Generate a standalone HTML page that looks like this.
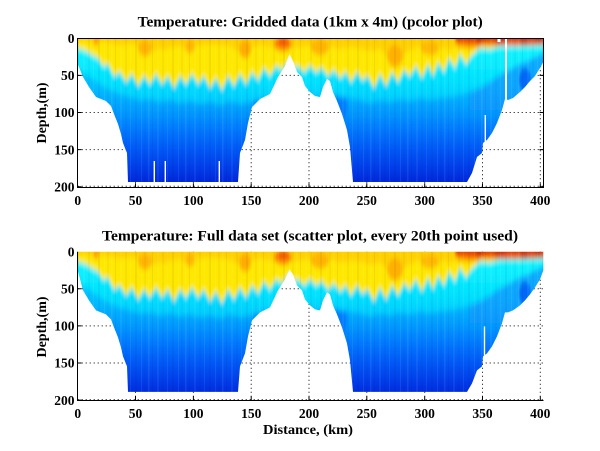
<!DOCTYPE html>
<html><head><meta charset="utf-8">
<style>
html,body{margin:0;padding:0;background:#fff}
svg{display:block}
text{font-family:"Liberation Serif","Times New Roman",serif;font-weight:bold;fill:#000}
</style></head>
<body>
<svg width="600" height="451" viewBox="0 0 600 451" xmlns="http://www.w3.org/2000/svg">
<defs>
<linearGradient id="gb" gradientUnits="userSpaceOnUse" x1="0" y1="38" x2="0" y2="183">
<stop offset="0" stop-color="#10d0ff"/>
<stop offset="0.35" stop-color="#00bcff"/>
<stop offset="0.5" stop-color="#009cff"/>
<stop offset="0.62" stop-color="#007cff"/>
<stop offset="0.76" stop-color="#005af6"/>
<stop offset="0.9" stop-color="#003ce8"/>
<stop offset="1" stop-color="#0026d8"/>
</linearGradient>
<linearGradient id="gc" gradientUnits="userSpaceOnUse" x1="0" y1="50" x2="0" y2="105">
<stop offset="0" stop-color="#10f4ff"/>
<stop offset="0.6" stop-color="#00e0ff"/>
<stop offset="1" stop-color="#00c8ff"/>
</linearGradient>
<filter id="bl" x="-5%" y="-5%" width="110%" height="110%"><feGaussianBlur stdDeviation="1.4 3"/></filter>
<pattern id="st" patternUnits="userSpaceOnUse" width="37" height="10">
<rect x="0" y="0" width="1.5" height="10" fill="#fff" opacity=".08"/>
<rect x="4" y="0" width="1" height="10" fill="#000" opacity=".06"/>
<rect x="9" y="0" width="2" height="10" fill="#fff" opacity=".06"/>
<rect x="14.5" y="0" width="1" height="10" fill="#003" opacity=".07"/>
<rect x="19" y="0" width="1" height="10" fill="#fff" opacity=".07"/>
<rect x="24" y="0" width="2" height="10" fill="#003" opacity=".05"/>
<rect x="30" y="0" width="1" height="10" fill="#fff" opacity=".08"/>
<rect x="33.5" y="0" width="1" height="10" fill="#000" opacity=".06"/>
</pattern>
<g id="field">
<rect x="50" y="10" width="520" height="200" fill="url(#gb)"/>
<ellipse cx="335" cy="105" rx="12" ry="22" fill="#0060ff" opacity=".6"/>
<ellipse cx="262" cy="108" rx="10" ry="14" fill="#0064ff" opacity=".5"/>
<polygon points="470,60 545,55 545,110 470,110" fill="#1090ff" opacity=".5"/>
<ellipse cx="525" cy="80" rx="6" ry="12" fill="#0058f4" opacity=".8"/>
<polygon fill="url(#gc)" points="60,20 560,20 560,50 543,53 530,60 520,64 510,70 500,75 490,82 480,88 470,92 460,95 450,97 440,98 430,100 420,98 410,101 400,99 390,102 380,100 370,103 360,100 350,98 340,97 330,95 320,97 300,94 290,92 280,96 270,99 260,100 250,102 240,104 230,101 220,105 210,102 200,104 190,101 180,103 170,100 160,102 150,99 140,100 130,97 120,94 110,90 100,84 90,77 78,70 60,68"/>
<polygon fill="#ffe800" points="60,20 560,20 560,44 543,44 520,45 500,46 490,49 480,48 472,55 466,64 460,54 455,68 449,58 444,72 438,62 433,76 428,64 422,78 416,66 410,76 404,70 398,82 392,72 386,86 380,74 374,88 368,76 362,80 357,72 351,82 346,72 340,78 334,70 328,76 322,68 316,72 310,66 304,72 298,66 292,68 288,62 282,70 276,66 270,76 264,68 258,80 252,72 246,84 240,74 234,86 228,76 222,90 216,78 210,88 204,76 198,84 192,74 186,84 180,76 174,88 168,76 162,84 156,74 150,84 144,76 138,86 132,74 126,82 120,72 114,76 108,64 103,66 98,58 92,55 86,51 78,48 60,48"/>
<polygon fill="#ffd000" points="60,20 560,20 560,44 543,45 520,46 500,46 490,47 480,46 470,48 460,47 450,49 440,48 430,50 420,47 410,50 405,54 400,51 395,56 390,52 385,54 380,49 370,51 360,48 350,47 340,49 330,46 320,48 310,46 300,47 295,48 290,46 285,49 280,48 270,47 260,45 250,48 245,51 240,49 235,50 230,46 220,45 210,44 200,45 190,46 185,49 180,46 170,47 165,50 160,48 155,51 150,49 145,47 140,45 130,44 120,45 110,43 100,42 95,41 90,42 85,41 78,41 60,41"/>
<ellipse cx="96" cy="41" rx="3" ry="4" fill="#ff9800"/>
<ellipse cx="145" cy="48" rx="7" ry="8" fill="#ffb400"/>
<ellipse cx="190" cy="46" rx="5" ry="7" fill="#ffb800"/>
<ellipse cx="245" cy="49" rx="6" ry="9" fill="#ffac00"/>
<ellipse cx="283" cy="44" rx="9" ry="7" fill="#ff8000"/>
<ellipse cx="320" cy="47" rx="9" ry="8" fill="#ffb400"/>
<ellipse cx="395" cy="56" rx="8" ry="11" fill="#ffb000"/>
<ellipse cx="430" cy="48" rx="9" ry="7" fill="#ffb800"/>
<ellipse cx="470" cy="43" rx="14" ry="5" fill="#ff9000"/>
<ellipse cx="283" cy="41" rx="6" ry="4" fill="#f05000"/>
<polygon points="455,30 545,30 545,44 505,45 480,44 455,42" fill="#e84000"/>
<ellipse cx="480" cy="40" rx="4" ry="3" fill="#c81800"/>
<ellipse cx="500" cy="41" rx="5" ry="3" fill="#c81800"/>
<ellipse cx="525" cy="42" rx="6" ry="3" fill="#c01000"/>
<ellipse cx="538" cy="40" rx="4" ry="3" fill="#b80800"/>
</g>
<clipPath id="c1"><polygon points="77.7,38.3 543.3,38.3 543.3,62 540,68 535,76 530,81 525,87 520,92 513,98 508,100 505,99 502,110 497,123 492,133 487,140 483,143 482,153 477,157 472,173 467,182 353,182 350,147 347,130 342,114 337,101 333,92 330,81 327,79 323,87 320,97 315,96 310,92 305,86 302,77 297,72 293,61 289.5,54 285,66 278,77 270,94 260,99 252,107 248,123 245,140 240,153 238,182 128,182 127,153 123,143 121,134 118,124 114,114 111,106 106,101 96,97 89,87 83,77 77.7,64"/></clipPath>
<clipPath id="c2"><polygon points="77.7,38.3 543.3,38.3 543.3,57 540,66 535,74 530,81 525,87 520,92 513,97 508,99 505,99 502,110 497,123 492,133 487,140 483,143 482,153 477,157 472,170 467,178.5 353,178.5 350,147 347,130 342,114 337,101 333,92 330,81 327,79 323,87 320,97 315,96 310,92 305,86 302,77 297,72 293,61 289.5,56 285,66 278,77 270,94 260,99 252,107 248,123 245,140 240,153 238,178.5 128,178.5 127,153 123,143 121,134 118,124 114,114 111,106 106,101 96,97 89,87 83,77 77.7,57"/></clipPath>
</defs>

<rect width="600" height="451" fill="#fff"/>

<!-- ============ TOP PLOT ============ -->
<g stroke="#000" stroke-width="1" stroke-dasharray="1 3" fill="none">
<path d="M135.5 38.3V187.7M193.4 38.3V187.7M251.2 38.3V187.7M309 38.3V187.7M366.8 38.3V187.7M424.7 38.3V187.7M482.5 38.3V187.7M540.3 38.3V187.7"/>
<path d="M77.7 75.4H543.3M77.7 112.5H543.3M77.7 149.6H543.3M77.7 186.2H543.3"/>
</g>
<g clip-path="url(#c1)">
<g filter="url(#bl)"><use href="#field"/></g>
<rect x="60" y="30" width="500" height="170" fill="url(#st)"/>
</g>
<rect x="153.6" y="161" width="1.4" height="21" fill="#fff"/>
<rect x="164.6" y="161" width="1.4" height="21" fill="#fff"/>
<rect x="218.6" y="161" width="1.4" height="21" fill="#fff"/>
<rect x="484.6" y="115" width="1.4" height="36" fill="#fff"/>
<rect x="505" y="38" width="2" height="62" fill="#fff"/>
<rect x="497.5" y="39" width="3" height="3" fill="#fff"/>
<g stroke="#000" stroke-width="1" fill="none">
<rect x="77.5" y="38.5" width="466" height="149"/>
<path d="M135.5 187.5v-4M193.4 187.5v-4M251.2 187.5v-4M309 187.5v-4M366.8 187.5v-4M424.7 187.5v-4M482.5 187.5v-4M540.3 187.5v-4"/>
<path d="M77.5 75.4h4M77.5 112.5h4M77.5 149.6h4M77.5 186.7h4"/>
<path d="M543.5 75.4h-4M543.5 112.5h-4M543.5 149.6h-4M543.5 186.7h-4"/>
</g>
<text x="310.2" y="26.7" font-size="14.5" text-anchor="middle" textLength="345" lengthAdjust="spacingAndGlyphs">Temperature: Gridded data (1km x 4m) (pcolor plot)</text>
<g font-size="13.5" text-anchor="middle">
<text x="77.7" y="205">0</text><text x="135.5" y="205">50</text><text x="193.4" y="205">100</text><text x="251.2" y="205">150</text><text x="309" y="205">200</text><text x="366.8" y="205">250</text><text x="424.7" y="205">300</text><text x="482.5" y="205">350</text><text x="540.3" y="205">400</text>
</g>
<g font-size="13.5" text-anchor="end">
<text x="74.5" y="43">0</text><text x="74.5" y="80.1">50</text><text x="74.5" y="117.2">100</text><text x="74.5" y="154.3">150</text><text x="74.5" y="191.4">200</text>
</g>
<text transform="translate(46,113) rotate(-90)" font-size="14" text-anchor="middle">Depth,(m)</text>

<!-- ============ BOTTOM PLOT ============ -->
<g stroke="#000" stroke-width="1" stroke-dasharray="1 3" fill="none">
<path d="M135.5 251.7V401M193.4 251.7V401M251.2 251.7V401M309 251.7V401M366.8 251.7V401M424.7 251.7V401M482.5 251.7V401M540.3 251.7V401"/>
<path d="M77.7 288.8H543.3M77.7 325.9H543.3M77.7 363H543.3M77.7 399.6H543.3"/>
</g>
<g transform="translate(0,213.4)">
<g clip-path="url(#c2)">
<g filter="url(#bl)"><use href="#field"/></g>
<rect x="60" y="30" width="500" height="170" fill="url(#st)"/>
</g>
<rect x="483.8" y="113" width="1.4" height="29" fill="#fff"/>
</g>
<g stroke="#000" stroke-width="1" fill="none">
<path d="M77.5 251.7V400.5H543.5"/>
<path d="M135.5 400.5v-4M193.4 400.5v-4M251.2 400.5v-4M309 400.5v-4M366.8 400.5v-4M424.7 400.5v-4M482.5 400.5v-4M540.3 400.5v-4"/>
<path d="M77.5 288.8h4M77.5 325.9h4M77.5 363h4M77.5 400.1h4"/>
</g>
<text x="310" y="240.7" font-size="14.5" text-anchor="middle" textLength="416" lengthAdjust="spacingAndGlyphs">Temperature: Full data set (scatter plot, every 20th point used)</text>
<g font-size="13.5" text-anchor="middle">
<text x="77.7" y="418">0</text><text x="135.5" y="418">50</text><text x="193.4" y="418">100</text><text x="251.2" y="418">150</text><text x="309" y="418">200</text><text x="366.8" y="418">250</text><text x="424.7" y="418">300</text><text x="482.5" y="418">350</text><text x="540.3" y="418">400</text>
</g>
<g font-size="13.5" text-anchor="end">
<text x="74.5" y="256.4">0</text><text x="74.5" y="293.5">50</text><text x="74.5" y="330.6">100</text><text x="74.5" y="367.7">150</text><text x="74.5" y="404.8">200</text>
</g>
<text transform="translate(46,327) rotate(-90)" font-size="14" text-anchor="middle">Depth,(m)</text>
<text x="308" y="434" font-size="14" text-anchor="middle" textLength="90" lengthAdjust="spacingAndGlyphs">Distance, (km)</text>
</svg>
</body></html>
